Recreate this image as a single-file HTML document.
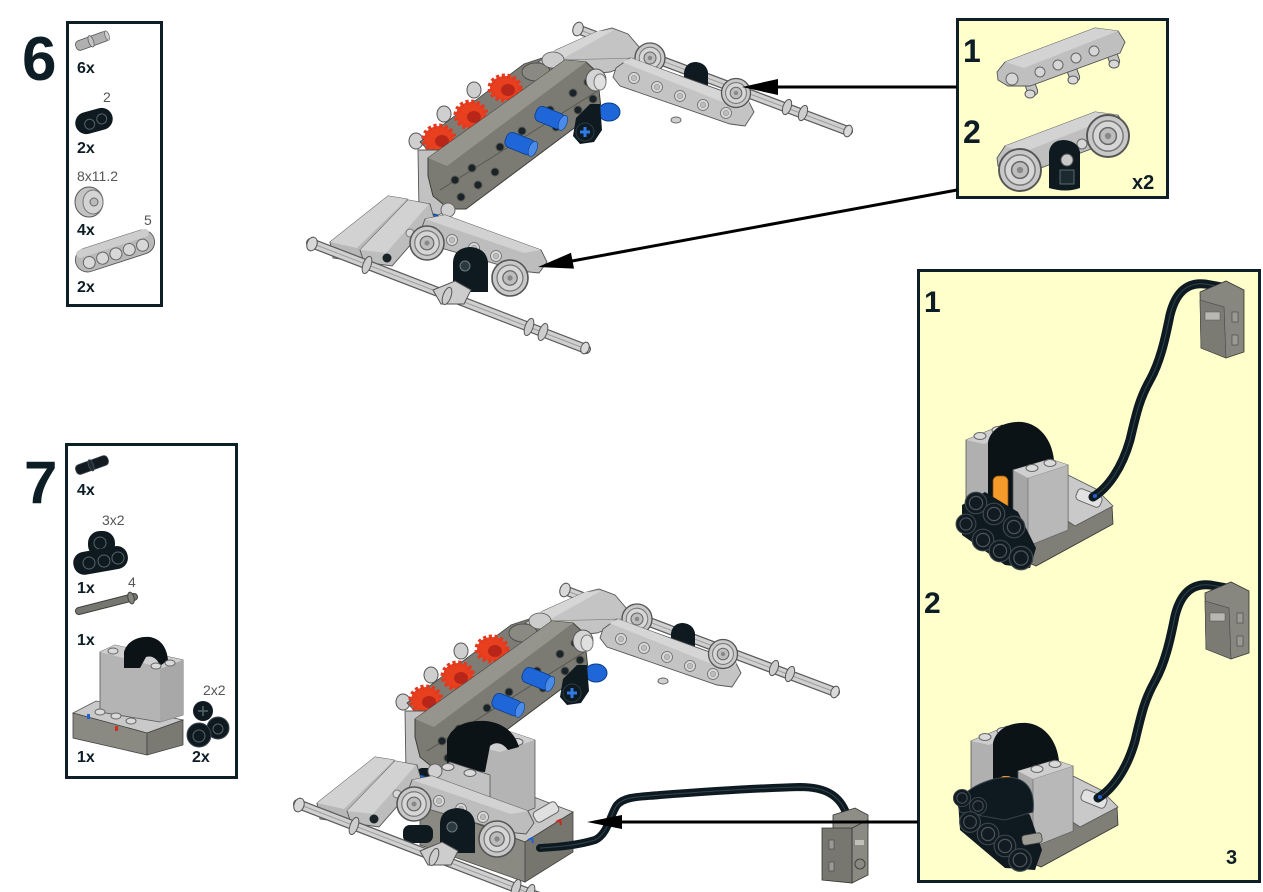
<!DOCTYPE html>
<html><head><meta charset="utf-8">
<style>
html,body{margin:0;padding:0;background:#fff;}
svg{display:block;}
.num{font-family:"Liberation Sans",sans-serif;font-weight:bold;fill:#0d1d26;}
.lbl{font-family:"Liberation Sans",sans-serif;fill:#555;}
</style></head><body>
<svg width="1263" height="892" viewBox="0 0 1263 892" xmlns="http://www.w3.org/2000/svg" xmlns:xlink="http://www.w3.org/1999/xlink">
<defs>
 <g id="wh"><circle r="10" fill="#c8c8c8" stroke="#555" stroke-width="0.9"/><circle r="7.2" fill="#d6d6d6" stroke="#777" stroke-width="0.7"/><circle r="4" fill="#bdbdbd" stroke="#666" stroke-width="0.7"/><circle r="1.5" fill="#888"/></g>
 <g id="bh"><circle r="9" fill="#111b21" stroke="#3b474d" stroke-width="1"/><circle r="5.5" fill="none" stroke="#4a565c" stroke-width="1"/></g>
 <g id="lh"><circle r="5.5" fill="#d8d8d8" stroke="#6a6a6a" stroke-width="0.8"/><circle r="2.8" fill="#bcbcbc" stroke="#888" stroke-width="0.5"/></g>
 <g id="dh"><circle r="4" fill="#1a2328" stroke="#5a5a55" stroke-width="1"/></g>

 <g id="m6a">
  <g stroke-linecap="round">
   <line x1="580" y1="30" x2="848" y2="131" stroke="#5c5c5c" stroke-width="10"/>
   <line x1="580" y1="30" x2="848" y2="131" stroke="#d0d0d0" stroke-width="7.5"/>
   <line x1="580" y1="30" x2="848" y2="131" stroke="#9c9c9c" stroke-width="1"/>
  </g>
  <ellipse cx="787" cy="107" rx="4" ry="8" fill="#cdcdcd" stroke="#555" transform="rotate(20 787 107)"/>
  <ellipse cx="803" cy="113" rx="4" ry="8" fill="#cdcdcd" stroke="#555" transform="rotate(20 803 113)"/>
  <ellipse cx="848" cy="131" rx="4" ry="6" fill="#dadada" stroke="#555" transform="rotate(20 848 131)"/>
  <ellipse cx="578" cy="29" rx="5" ry="7" fill="#d8d8d8" stroke="#555" transform="rotate(20 578 29)"/>
  <ellipse cx="416" cy="141" rx="7" ry="8" fill="#cfcfcf" stroke="#555"/>
  <ellipse cx="444" cy="114" rx="7" ry="8" fill="#cfcfcf" stroke="#555"/>
  <ellipse cx="474" cy="90" rx="7" ry="8" fill="#cfcfcf" stroke="#555"/>
  <polygon points="420,142 524,64 548,56 566,66 458,152 432,154" fill="#7d7d75" stroke="#444" stroke-width="0.8"/>
  <g stroke="#e3391f" stroke-width="5" stroke-dasharray="3 2.5" fill="#e8401f">
   <ellipse cx="505" cy="88" rx="15" ry="12"/>
   <ellipse cx="471" cy="115" rx="15" ry="13"/>
   <ellipse cx="439" cy="139" rx="15" ry="13"/>
  </g>
  <g fill="#b8261a"><ellipse cx="508" cy="90" rx="7" ry="6"/><ellipse cx="474" cy="117" rx="7" ry="6"/><ellipse cx="442" cy="141" rx="7" ry="6"/></g>
  <ellipse cx="536" cy="72" rx="14" ry="9" fill="#8a8a82" stroke="#444" stroke-width="0.8"/>
  <polygon points="538,62 556,50 596,32 612,28 628,34 640,48 636,62 610,72 590,74 566,74" fill="#c4c4c4" stroke="#555" stroke-width="0.9"/>
  <polygon points="543,56 598,31 614,30 560,60" fill="#d6d6d6"/>
  <line x1="560" y1="60" x2="636" y2="58" stroke="#888" stroke-width="0.8"/>
  <ellipse cx="553" cy="60" rx="11" ry="8" fill="#cccccc" stroke="#555" stroke-width="0.8"/>
  <polygon points="418,150 440,150 448,168 446,212 432,217 419,212" fill="#c2c2c2" stroke="#555" stroke-width="0.9"/>
  <polygon points="428,158 565,60 586,62 597,72 601,108 466,209 449,209 433,196 428,176" fill="#7b7b73" stroke="#3e3e3a" stroke-width="1"/>
  <polygon points="428,158 565,60 586,62 447,166" fill="#95958d"/>
  <line x1="440" y1="190" x2="599" y2="90" stroke="#55554f" stroke-width="0.9"/>
  <g>
   <use xlink:href="#dh" x="455" y="180"/><use xlink:href="#dh" x="472" y="168"/><use xlink:href="#dh" x="500" y="147"/><use xlink:href="#dh" x="522" y="131"/><use xlink:href="#dh" x="550" y="110"/><use xlink:href="#dh" x="573" y="93"/><use xlink:href="#dh" x="588" y="82"/>
   <use xlink:href="#dh" x="461" y="197"/><use xlink:href="#dh" x="478" y="185"/><use xlink:href="#dh" x="495" y="172"/><use xlink:href="#dh" x="525" y="150"/><use xlink:href="#dh" x="556" y="127"/><use xlink:href="#dh" x="578" y="110"/><use xlink:href="#dh" x="593" y="99"/>
  </g>
  <ellipse cx="596" cy="80" rx="10" ry="11" fill="#d4d4d4" stroke="#555"/>
  <ellipse cx="600" cy="82" rx="6" ry="8" fill="#e0e0e0" stroke="#777"/>
  <g transform="translate(536,112) rotate(22)"><rect x="0" y="-8" width="30" height="16" rx="6" fill="#1f66d8" stroke="#0c3d85" stroke-width="0.8"/><ellipse cx="29" cy="0" rx="4" ry="8" fill="#4a8ae8" stroke="#0c3d85" stroke-width="0.6"/></g>
  <g transform="translate(506,138) rotate(22)"><rect x="0" y="-8" width="30" height="16" rx="6" fill="#1f66d8" stroke="#0c3d85" stroke-width="0.8"/><ellipse cx="29" cy="0" rx="4" ry="8" fill="#4a8ae8" stroke="#0c3d85" stroke-width="0.6"/></g>
  <ellipse cx="609" cy="112" rx="11" ry="9" fill="#1f66d8" stroke="#0c3d85"/>
  <path d="M590,104 L600,104 L602,130 L594,142 L580,144 L573,136 L576,118 Z" fill="#0f1a20"/>
  <circle cx="585" cy="132" r="9" fill="#0f1a20" stroke="#2a3a44"/>
  <path d="M580,132 h10 M585,127 v10" stroke="#2f7be6" stroke-width="3"/>
  <use xlink:href="#wh" transform="translate(650,58) scale(1.5)"/>
  <path d="M684,90 L684,72 Q686,62 696,62 Q706,63 708,72 L708,90 Z" fill="#0f1a20"/>
  <polygon points="616,68 630,58 748,100 754,112 745,126 730,124 620,86 613,77" fill="#c4c4c4" stroke="#555" stroke-width="0.9"/>
  <polygon points="622,62 631,58 750,102 740,109" fill="#d6d6d6"/>
  <use xlink:href="#lh" x="634" y="78"/><use xlink:href="#lh" x="657" y="87"/><use xlink:href="#lh" x="680" y="96"/><use xlink:href="#lh" x="703" y="105"/><use xlink:href="#lh" x="726" y="113"/>
  <ellipse cx="676" cy="120" rx="5" ry="3" fill="#cfcfcf" stroke="#666"/>
  <use xlink:href="#wh" transform="translate(736,93) scale(1.45)"/>
 </g>

 <g id="m6b">
  <circle cx="448" cy="210" r="7" fill="#d0d0d0" stroke="#666"/>
  <ellipse cx="433" cy="220" rx="7" ry="6" fill="#1f66d8" stroke="#0c3d85"/>
  <!-- L1 -->
  <polygon points="330,242 388,196 407,199 409,212 362,262 333,258" fill="#b8b8b8" stroke="#555" stroke-width="0.9"/>
  <polygon points="330,242 388,196 407,199 357,248" fill="#d2d2d2"/>
  <!-- L2 -->
  <polygon points="360,250 408,200 430,204 434,218 392,266 364,262" fill="#bdbdbd" stroke="#555" stroke-width="0.9"/>
  <polygon points="360,250 408,200 429,204 386,253" fill="#d2d2d2"/>
  <circle cx="387" cy="258" r="4.5" fill="#1a2328"/>
  <circle cx="410" cy="233" r="4" fill="#d8d8d8" stroke="#777"/>
  <!-- A-beam -->
  <polygon points="425,219 445,215 541,250 547,262 539,273 520,271 417,241" fill="#bdbdbd" stroke="#555" stroke-width="0.9"/>
  <polygon points="425,219 445,215 541,250 524,253" fill="#d2d2d2"/>
  <use xlink:href="#lh" x="452" y="240"/><use xlink:href="#lh" x="474" y="248"/><use xlink:href="#lh" x="496" y="256"/>
  <use xlink:href="#wh" transform="translate(427,243) scale(1.7)"/>
  <path d="M453,292 L453,262 Q454,248 470,247 Q486,248 488,262 L488,292 Z" fill="#0f1a20"/>
  <circle cx="465" cy="266" r="5" fill="#2c3a40" stroke="#6a7a80"/>
  <use xlink:href="#wh" transform="translate(510,278) scale(1.8)"/>
  <g stroke-linecap="round">
   <line x1="311" y1="243" x2="586" y2="349" stroke="#5c5c5c" stroke-width="10"/>
   <line x1="311" y1="243" x2="586" y2="349" stroke="#d0d0d0" stroke-width="7.5"/>
   <line x1="311" y1="243" x2="586" y2="349" stroke="#9c9c9c" stroke-width="1"/>
  </g>
  <ellipse cx="312" cy="244" rx="5" ry="7" fill="#d8d8d8" stroke="#555" transform="rotate(20 312 244)"/>
  <ellipse cx="367" cy="265" rx="4" ry="9" fill="#cdcdcd" stroke="#555" transform="rotate(20 367 265)"/>
  <polygon points="433,290 455,281 471,290 464,304 441,304" fill="#cdcdcd" stroke="#555"/>
  <ellipse cx="447" cy="296" rx="4" ry="9" fill="#cdcdcd" stroke="#555" transform="rotate(20 447 296)"/>
  <ellipse cx="529" cy="327" rx="4" ry="9" fill="#cdcdcd" stroke="#555" transform="rotate(20 529 327)"/>
  <ellipse cx="543" cy="332" rx="4" ry="9" fill="#cdcdcd" stroke="#555" transform="rotate(20 543 332)"/>
  <ellipse cx="585" cy="348" rx="4" ry="6" fill="#dadada" stroke="#555" transform="rotate(20 585 348)"/>
 </g>

 <g id="mb">
  <polygon points="1018,538 1112,506 1113,524 1036,566 1018,558" fill="#7f7f77" stroke="#333" stroke-width="0.8"/>
  <polygon points="1066,474 1096,489 1113,506 1075,526 1066,520" fill="#c9c9c9" stroke="#555" stroke-width="0.8"/>
  <rect x="1076" y="492" width="26" height="12" rx="4" fill="#e2e2e2" stroke="#666" transform="rotate(22 1089 498)"/>
  <polygon points="966,440 1002,425 1020,430 1020,522 966,528" fill="#b0b0b0" stroke="#555" stroke-width="0.8"/>
  <polygon points="966,440 1000,426 1018,430 984,444" fill="#cdcdcd"/>
  <ellipse cx="980" cy="436" rx="6" ry="3.5" fill="#dadada" stroke="#666"/>
  <ellipse cx="998" cy="430" rx="6" ry="3.5" fill="#dadada" stroke="#666"/>
  <path d="M988,525 L988,442 C991,428 1005,421 1022,422 C1040,424 1052,440 1054,460 L1030,478 L1016,470 L1014,525 Z" fill="#0c1317"/>
  <polygon points="1013,470 1050,459 1068,465 1068,530 1028,546 1013,530" fill="#a6a6a6" stroke="#555" stroke-width="0.8"/>
  <polygon points="1028,478 1068,465 1068,530 1028,546" fill="#b8b8b8" stroke="#666" stroke-width="0.6"/>
  <polygon points="1013,470 1050,459 1068,465 1028,478" fill="#cfcfcf"/>
  <ellipse cx="1032" cy="468" rx="6" ry="3.5" fill="#dadada" stroke="#666"/>
  <ellipse cx="1050" cy="463" rx="6" ry="3.5" fill="#dadada" stroke="#666"/>
  <path d="M1093,497 C1108,488 1122,468 1130,440 C1137,410 1140,398 1150,380 C1160,362 1165,340 1170,315 C1175,295 1185,282 1205,284 L1222,287" fill="none" stroke="#0d1a21" stroke-width="9" stroke-linecap="round"/>
  <path d="M1093,497 C1108,488 1122,468 1130,440 C1137,410 1140,398 1150,380 C1160,362 1165,340 1170,315 C1175,295 1185,282 1205,284 L1222,287" fill="none" stroke="#33444d" stroke-width="1"/>
  <circle cx="1095" cy="496" r="2" fill="#2060d0"/>
  <polygon points="1200,292 1226,281 1244,290 1244,352 1226,358 1201,348" fill="#87877f" stroke="#333" stroke-width="0.8"/>
  <polygon points="1200,300 1224,307 1226,358 1201,348" fill="#7b7b73" stroke="#444" stroke-width="0.6"/>
  <rect x="1205" y="312" width="15" height="8" fill="#b8b8b0" stroke="#555" stroke-width="0.5"/>
  <rect x="1232" y="312" width="6" height="10" fill="#9a9a92" stroke="#444" stroke-width="0.6"/>
  <rect x="1232" y="335" width="6" height="10" fill="#9a9a92" stroke="#444" stroke-width="0.6"/>
 </g>
</defs>

<rect width="1263" height="892" fill="#fff"/>

<!-- STEP 6 -->
<text x="22" y="80" class="num" font-size="62">6</text>
<rect x="67.5" y="22.5" width="94" height="283" fill="#fff" stroke="#0f1f27" stroke-width="3"/>
<g transform="translate(92,41) rotate(-20)"><rect x="-17" y="-5" width="34" height="10" rx="4" fill="#b0b0b0" stroke="#555" stroke-width="0.8"/><ellipse cx="-1" cy="0" rx="2.5" ry="6" fill="#c4c4c4" stroke="#555" stroke-width="0.7"/><ellipse cx="16" cy="0" rx="2" ry="5" fill="#d0d0d0" stroke="#555" stroke-width="0.6"/></g>
<text x="77" y="73" class="num" font-size="16">6x</text>
<text x="103" y="102" class="lbl" font-size="14">2</text>
<g transform="translate(94,121) rotate(-15)"><rect x="-19" y="-11" width="38" height="22" rx="11" fill="#0f1a20"/><circle cx="-5" cy="2" r="5" fill="none" stroke="#55646a"/><circle cx="8" cy="0" r="5" fill="none" stroke="#55646a"/></g>
<text x="77" y="153" class="num" font-size="16">2x</text>
<text x="77" y="181" class="lbl" font-size="14">8x11.2</text>
<ellipse cx="89" cy="202" rx="14" ry="15" fill="#c3c3c3" stroke="#555"/>
<ellipse cx="93" cy="202" rx="10" ry="12" fill="#d4d4d4" stroke="#777"/>
<circle cx="94" cy="202" r="4" fill="#bbb" stroke="#666"/>
<text x="77" y="235" class="num" font-size="16">4x</text>
<text x="144" y="225" class="lbl" font-size="14">5</text>
<g transform="translate(115,251) rotate(-18)"><rect x="-41" y="-12" width="82" height="24" rx="12" fill="#b9b9b9" stroke="#555" stroke-width="0.9"/><rect x="-38" y="-12" width="76" height="8" rx="4" fill="#cdcdcd"/>
<circle cx="-28" cy="3" r="6" fill="#d8d8d8" stroke="#666"/><circle cx="-14" cy="3" r="6" fill="#d8d8d8" stroke="#666"/><circle cx="0" cy="3" r="6" fill="#d8d8d8" stroke="#666"/><circle cx="14" cy="3" r="6" fill="#d8d8d8" stroke="#666"/><circle cx="28" cy="3" r="6" fill="#d8d8d8" stroke="#666"/></g>
<text x="77" y="292" class="num" font-size="16">2x</text>

<use xlink:href="#m6a"/>
<use xlink:href="#m6b"/>

<!-- top callout -->
<rect x="957.5" y="19.5" width="210" height="178" fill="#ffffcc" stroke="#0f1f27" stroke-width="3"/>
<text x="963" y="62" class="num" font-size="32">1</text>
<text x="963" y="143" class="num" font-size="32">2</text>
<g>
 <rect x="1026" y="78" width="10" height="18" rx="4" fill="#c4c4c4" stroke="#555" transform="rotate(-20 1031 87)"/>
 <rect x="1068" y="64" width="10" height="18" rx="4" fill="#c4c4c4" stroke="#555" transform="rotate(-20 1073 73)"/>
 <rect x="1108" y="48" width="10" height="18" rx="4" fill="#c4c4c4" stroke="#555" transform="rotate(-20 1113 57)"/>
 <polygon points="997,72 1005,62 1095,28 1118,31 1125,42 1120,53 1030,86 1008,86 998,80" fill="#bfbfbf" stroke="#555" stroke-width="0.9"/>
 <polygon points="1005,62 1095,28 1118,31 1024,68" fill="#d3d3d3"/>
 <circle cx="1012" cy="79" r="6" fill="#d6d6d6" stroke="#666"/>
 <circle cx="1040" cy="72" r="5" fill="#d6d6d6" stroke="#666"/><circle cx="1058" cy="65" r="5" fill="#d6d6d6" stroke="#666"/><circle cx="1076" cy="58" r="5" fill="#d6d6d6" stroke="#666"/><circle cx="1094" cy="51" r="5" fill="#d6d6d6" stroke="#666"/>
 <ellipse cx="1030" cy="94" rx="5" ry="4" fill="#d8d8d8" stroke="#555"/>
 <ellipse cx="1073" cy="80" rx="5" ry="4" fill="#d8d8d8" stroke="#555"/>
 <ellipse cx="1114" cy="64" rx="5" ry="4" fill="#d8d8d8" stroke="#555"/>
</g>
<g>
 <polygon points="997,158 1005,146 1095,112 1118,115 1125,126 1120,138 1030,172 1008,172 998,166" fill="#bfbfbf" stroke="#555" stroke-width="0.9"/>
 <polygon points="1005,146 1095,112 1118,115 1024,152" fill="#d3d3d3"/>
 <circle cx="1062" cy="152" r="5" fill="#d6d6d6" stroke="#666"/><circle cx="1082" cy="144" r="5" fill="#d6d6d6" stroke="#666"/>
 <use xlink:href="#wh" transform="translate(1020,170) scale(2.1)"/>
 <use xlink:href="#wh" transform="translate(1108,136) scale(2.1)"/>
 <path d="M1049,188 L1049,152 Q1051,140 1064,140 Q1078,141 1080,152 L1080,188 Q1066,193 1049,188 Z" fill="#0f1a20"/>
 <circle cx="1067" cy="160" r="6" fill="#c8c8c8" stroke="#555"/>
 <rect x="1060" y="170" width="14" height="14" fill="#1c2a30" stroke="#6a7a80" stroke-width="0.8"/>
</g>
<text x="1132" y="189" class="num" font-size="20">x2</text>

<!-- STEP 7 -->
<text x="24" y="503" class="num" font-size="60">7</text>
<rect x="66.5" y="444.5" width="170" height="333" fill="#fff" stroke="#0f1f27" stroke-width="3"/>
<g transform="translate(92,465) rotate(-20)"><rect x="-17" y="-5" width="34" height="10" rx="4" fill="#111b21" stroke="#3a464c" stroke-width="0.8"/><ellipse cx="-1" cy="0" rx="2.5" ry="6" fill="#1e2a30" stroke="#4a565c" stroke-width="0.7"/></g>
<text x="77" y="495" class="num" font-size="16">4x</text>
<text x="102" y="525" class="lbl" font-size="14">3x2</text>
<g>
 <rect x="88" y="531" width="27" height="26" rx="12" fill="#0f1a20"/>
 <circle cx="100" cy="543" r="6" fill="none" stroke="#55646a"/>
 <rect x="73" y="549" width="55" height="23" rx="11" fill="#0f1a20" transform="rotate(-10 100 560)"/>
 <circle cx="89" cy="563" r="6" fill="none" stroke="#55646a"/><circle cx="104" cy="561" r="6" fill="none" stroke="#55646a"/><circle cx="118" cy="558" r="6" fill="none" stroke="#55646a"/>
</g>
<text x="77" y="593" class="num" font-size="16">1x</text>
<text x="128" y="587" class="lbl" font-size="14">4</text>
<line x1="79" y1="611" x2="134" y2="597" stroke="#3e3e3a" stroke-width="8" stroke-linecap="round"/>
<line x1="79" y1="611" x2="134" y2="597" stroke="#767670" stroke-width="6" stroke-linecap="round"/>
<ellipse cx="131" cy="598" rx="3" ry="6" fill="#85857d" stroke="#444" transform="rotate(-14 131 598)"/>
<text x="77" y="645" class="num" font-size="16">1x</text>
<g>
 <polygon points="73,713 96,701 183,720 147,733" fill="#c9c9c9" stroke="#555" stroke-width="0.8"/>
 <polygon points="73,713 147,733 147,755 73,738" fill="#8a8a82" stroke="#444" stroke-width="0.8"/>
 <polygon points="147,733 183,720 183,745 147,755" fill="#7a7a72" stroke="#444" stroke-width="0.8"/>
 <polygon points="100,652 115,645 183,660 183,715 160,722 100,712" fill="#b4b4b4" stroke="#555" stroke-width="0.8"/>
 <polygon points="160,668 183,660 183,715 160,722" fill="#a8a8a8"/>
 <polygon points="100,652 115,645 183,660 162,668" fill="#cfcfcf"/>
 <path d="M124,668 L124,652 C127,641 138,636 150,637 C161,639 167,648 168,660 L160,666 C158,659 152,655 146,657 L140,668 Z" fill="#0c1317"/>
 <ellipse cx="113" cy="651" rx="5" ry="3" fill="#dadada" stroke="#666"/>
 <ellipse cx="156" cy="666" rx="5" ry="3" fill="#dadada" stroke="#666"/>
 <ellipse cx="170" cy="663" rx="5" ry="3" fill="#dadada" stroke="#666"/>
 <ellipse cx="100" cy="712" rx="5" ry="3" fill="#dadada" stroke="#666"/>
 <ellipse cx="116" cy="716" rx="5" ry="3" fill="#dadada" stroke="#666"/>
 <ellipse cx="131" cy="721" rx="5" ry="3" fill="#dadada" stroke="#666"/>
 <rect x="87" y="714" width="3" height="5" fill="#2060d0"/>
 <rect x="115" y="726" width="3" height="5" fill="#d03020"/>
</g>
<text x="203" y="695" class="lbl" font-size="14">2x2</text>
<g>
 <circle cx="203" cy="711" r="10" fill="#0f1a20"/>
 <path d="M198,711 h10 M203,706 v10" stroke="#55646a" stroke-width="1.5"/>
 <circle cx="218" cy="728" r="11" fill="#0f1a20" stroke="#3a464c"/>
 <circle cx="199" cy="735" r="12" fill="#0f1a20" stroke="#3a464c"/>
 <circle cx="199" cy="736" r="6" fill="none" stroke="#55646a"/>
 <circle cx="218" cy="729" r="5" fill="none" stroke="#55646a"/>
</g>
<text x="77" y="762" class="num" font-size="16">1x</text>
<text x="192" y="762" class="num" font-size="16">2x</text>

<use xlink:href="#m6a" transform="translate(-13,561)"/>
<g>
 <polygon points="420,802 468,772 573,812 525,842" fill="#c8c8c8" stroke="#555" stroke-width="0.8"/>
 <polygon points="420,802 525,842 525,882 420,845" fill="#8a8a82" stroke="#444" stroke-width="0.8"/>
 <polygon points="525,842 573,812 573,852 525,882" fill="#76766e" stroke="#444" stroke-width="0.8"/>
 <rect x="533" y="806" width="26" height="12" rx="4" fill="#e0e0e0" stroke="#666" transform="rotate(-30 546 812)"/>
 <path d="M556,822 l4,-2 l1,5" stroke="#c8281c" stroke-width="2" fill="none"/>
 <path d="M528,840 l4,-2 l1,5" stroke="#2060d0" stroke-width="2" fill="none"/>
 <polygon points="470,745 505,730 535,740 535,808 500,822 470,810" fill="#b4b4b4" stroke="#555" stroke-width="0.8"/>
 <polygon points="470,745 505,730 535,740 500,752" fill="#cfcfcf"/>
 <ellipse cx="497" cy="737" rx="6" ry="3.5" fill="#dadada" stroke="#666"/>
 <ellipse cx="517" cy="742" rx="6" ry="3.5" fill="#dadada" stroke="#666"/>
 <path d="M447,770 L447,740 C452,725 468,720 486,721 C504,723 515,733 519,747 L508,750 C503,743 496,741 490,746 L485,772 Z" fill="#0c1317"/>
 <polygon points="430,772 450,762 490,775 490,802 430,800" fill="#c2c2c2" stroke="#555" stroke-width="0.8"/>
 <ellipse cx="448" cy="767" rx="6" ry="3.5" fill="#dadada" stroke="#666"/>
 <ellipse cx="470" cy="773" rx="6" ry="3.5" fill="#dadada" stroke="#666"/>
 <rect x="417" y="768" width="18" height="20" rx="5" fill="#0f1a20"/>
 <rect x="403" y="825" width="30" height="18" rx="7" fill="#0f1a20"/>
</g>
<use xlink:href="#m6b" transform="translate(-13,561)"/>
<path d="M540,848 C555,847 575,846 595,840 C608,834 610,815 617,805 C625,796 640,797 660,795 C700,792 760,788 800,787 C825,787 840,795 847,815" fill="none" stroke="#0d1a21" stroke-width="8" stroke-linecap="round"/>
<path d="M540,848 C555,847 575,846 595,840 C608,834 610,815 617,805 C625,796 640,797 660,795 C700,792 760,788 800,787 C825,787 840,795 847,815" fill="none" stroke="#33444d" stroke-width="1"/>
<g>
 <polygon points="833,815 855,808 868,815 868,828 852,834 833,828" fill="#8e8e86" stroke="#333" stroke-width="0.8"/>
 <polygon points="852,828 868,820 868,875 852,883" fill="#8a8a82" stroke="#333" stroke-width="0.8"/>
 <polygon points="822,828 852,828 852,883 822,880" fill="#77776f" stroke="#333" stroke-width="0.8"/>
 <rect x="829" y="840" width="5" height="9" fill="#9a9a92" stroke="#444" stroke-width="0.6"/>
 <rect x="829" y="862" width="5" height="9" fill="#9a9a92" stroke="#444" stroke-width="0.6"/>
 <circle cx="860" cy="864" r="5" fill="#8a8a82" stroke="#444"/>
 <rect x="855" y="840" width="9" height="5" fill="#c0c0b8"/>
</g>

<!-- big callout -->
<rect x="918.5" y="270.5" width="341" height="611" fill="#ffffcc" stroke="#0f1f27" stroke-width="3"/>
<text x="924" y="312" class="num" font-size="30">1</text>
<text x="924" y="613" class="num" font-size="30">2</text>
<text x="1226" y="864" class="num" font-size="20">3</text>
<use xlink:href="#mb"/>
<rect x="993" y="476" width="15" height="40" rx="5" fill="#f39a2a" stroke="#8a5010" stroke-width="0.7"/>
<polygon points="962,505 985,492 1018,512 1036,548 1030,568 1005,565 962,535" fill="#0f1a20"/>
<g>
 <use xlink:href="#bh" transform="translate(976,503) scale(1.2)"/><use xlink:href="#bh" transform="translate(994,514) scale(1.2)"/><use xlink:href="#bh" transform="translate(1014,527) scale(1.2)"/>
 <use xlink:href="#bh" transform="translate(966,524) scale(1.1)"/><use xlink:href="#bh" transform="translate(983,540) scale(1.2)"/><use xlink:href="#bh" transform="translate(1000,551) scale(1.2)"/><use xlink:href="#bh" transform="translate(1021,558) scale(1.3)"/>
</g>
<use xlink:href="#mb" transform="translate(5,301)"/>
<rect x="1000" y="776" width="12" height="12" rx="4" fill="#f39a2a"/>
<polygon points="958,800 990,790 1030,815 1042,850 1035,870 1005,868 960,830" fill="#0f1a20"/>
<path d="M957,802 C970,785 995,775 1015,778 C1030,782 1035,795 1033,812 L1005,820 L960,812 Z" fill="#0f1a20" stroke="#34434a" stroke-width="1"/>
<g>
 <use xlink:href="#bh" transform="translate(962,798) scale(0.95)"/><use xlink:href="#bh" transform="translate(978,806) scale(0.95)"/>
 <use xlink:href="#bh" transform="translate(970,822) scale(1.15)"/><use xlink:href="#bh" transform="translate(988,834) scale(1.2)"/><use xlink:href="#bh" transform="translate(1005,846) scale(1.2)"/><use xlink:href="#bh" transform="translate(1020,860) scale(1.25)"/>
</g>
<rect x="1022" y="834" width="20" height="10" rx="3" fill="#9e9e96" stroke="#444" stroke-width="0.8" transform="rotate(-10 1032 839)"/>

<!-- arrows -->
<g stroke="#000" stroke-width="3" fill="none">
 <line x1="957" y1="87" x2="776" y2="87"/>
 <line x1="957" y1="190" x2="572" y2="261"/>
 <line x1="918" y1="822" x2="620" y2="822"/>
</g>
<polygon points="742,87 778,79 778,95" fill="#000"/>
<polygon points="538,267 574,268.6 571,252.8" fill="#000"/>
<polygon points="587,822 622,815 622,829" fill="#000"/>
</svg>
</body></html>
